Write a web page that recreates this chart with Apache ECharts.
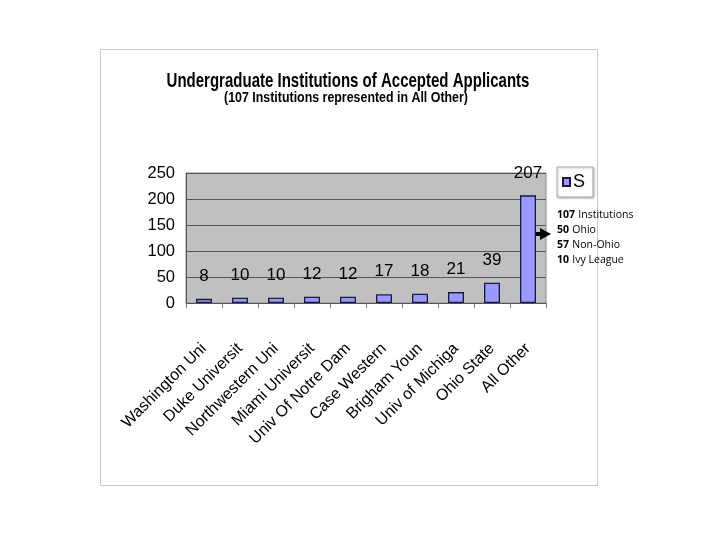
<!DOCTYPE html>
<html>
<head>
<meta charset="utf-8">
<script src="https://cdn.jsdelivr.net/npm/echarts@6/dist/echarts.min.js"></script>
<style>html,body{margin:0;padding:0;background:#fff}#c{width:720px;height:540px}</style>
</head>
<body>
<div id="c"></div>
<script>
const categories = ["Washington Uni", "Duke Universit", "Northwestern Uni", "Miami Universit", "Univ Of Notre Dam", "Case Western", "Brigham Youn", "Univ of Michiga", "Ohio State", "All Other"];
const values = [8, 10, 10, 12, 12, 17, 18, 21, 39, 207];
const yTicks = [0, 50, 100, 150, 200, 250];
const seriesName = "S";
const titleText = 'Undergraduate Institutions of Accepted Applicants';
const subtitleText = '(107 Institutions represented in All Other)';
const noteLines = [["107", "Institutions"], ["50", "Ohio"], ["57", "Non-Ohio"], ["10", "Ivy League"]];

const SANS = '"Liberation Sans", Arial, sans-serif';
const chart = echarts.init(document.getElementById('c'), null, {renderer: 'canvas'});
chart.setOption({
  animation: false,
  backgroundColor: '#fff',
  legend: {
    left: 557, top: 167, orient: 'vertical',
    padding: [6, 8, 6, 5], itemGap: 0,
    itemWidth: 7, itemHeight: 8,
    borderColor: '#aaa', borderWidth: 1,
    shadowColor: 'rgba(0,0,0,0.25)', shadowBlur: 2, shadowOffsetX: 1, shadowOffsetY: 1,
    backgroundColor: '#fff',
    textStyle: {fontFamily: SANS, fontSize: 18, color: '#000', padding: [0, 0, 0, -2]},
    data: [{name: seriesName, icon: 'rect'}]
  },
  grid: {left: 186, right: 174, top: 173, bottom: 237, show: true, backgroundColor: '#c0c0c0', borderColor: '#8a8a8a', borderWidth: 1},
  xAxis: {
    type: 'category', data: categories,
    axisLine: {lineStyle: {color: '#555', width: 1}},
    axisTick: {show: true, length: 5, lineStyle: {color: '#777'}},
    axisLabel: {rotate: 45, margin: 43, fontFamily: SANS, fontSize: 16, color: '#000', interval: 0}
  },
  yAxis: {
    type: 'value', min: yTicks[0], max: yTicks[yTicks.length - 1], interval: yTicks[1] - yTicks[0],
    axisLine: {show: true, lineStyle: {color: '#555'}},
    axisTick: {show: false},
    splitLine: {lineStyle: {color: '#555', width: 1}},
    axisLabel: {fontFamily: SANS, fontSize: 16.5, color: '#000', margin: 11}
  },
  series: [{
    name: seriesName, type: 'bar', data: values, barWidth: 16,
    itemStyle: {color: '#9999ff', borderColor: '#1a1a40', borderWidth: 1.3},
    label: {show: true, position: 'top', distance: 14, fontFamily: SANS, fontSize: 17, color: '#000'}
  }],
  graphic: [
    {type: 'rect', shape: {x: 100.5, y: 49.5, width: 497, height: 436}, style: {fill: null, stroke: '#c8c8c8', lineWidth: 1}, z: -10},
    {type: 'text', x: 348, y: 81, scaleX: 0.715, style: {text: titleText, font: 'bold 21px "Liberation Sans", Arial, sans-serif', fill: '#000', align: 'center', verticalAlign: 'middle'}},
    {type: 'text', x: 346, y: 98, scaleX: 0.8, style: {text: subtitleText, font: 'bold 15.5px "Liberation Sans", Arial, sans-serif', fill: '#000', align: 'center', verticalAlign: 'middle'}},
    {type: 'line', shape: {x1: 522, y1: 234, x2: 542, y2: 234}, style: {stroke: '#000', lineWidth: 4}},
    {type: 'polygon', shape: {points: [[540, 228], [551, 234], [540, 240]]}, style: {fill: '#000'}},
    {type: 'text', left: 557, top: 209, style: {
      text: noteLines.map(l => '{b|' + l[0] + '} {n|' + l[1] + '}').join('\n'),
      rich: {
        b: {fontFamily: '"Open Sans", sans-serif', fontSize: 10.5, fontWeight: 'bold', color: '#111', lineHeight: 15},
        n: {fontFamily: '"Open Sans", sans-serif', fontSize: 10.5, color: '#111', lineHeight: 15}
      }
    }}
  ]
});
</script>
</body>
</html>
